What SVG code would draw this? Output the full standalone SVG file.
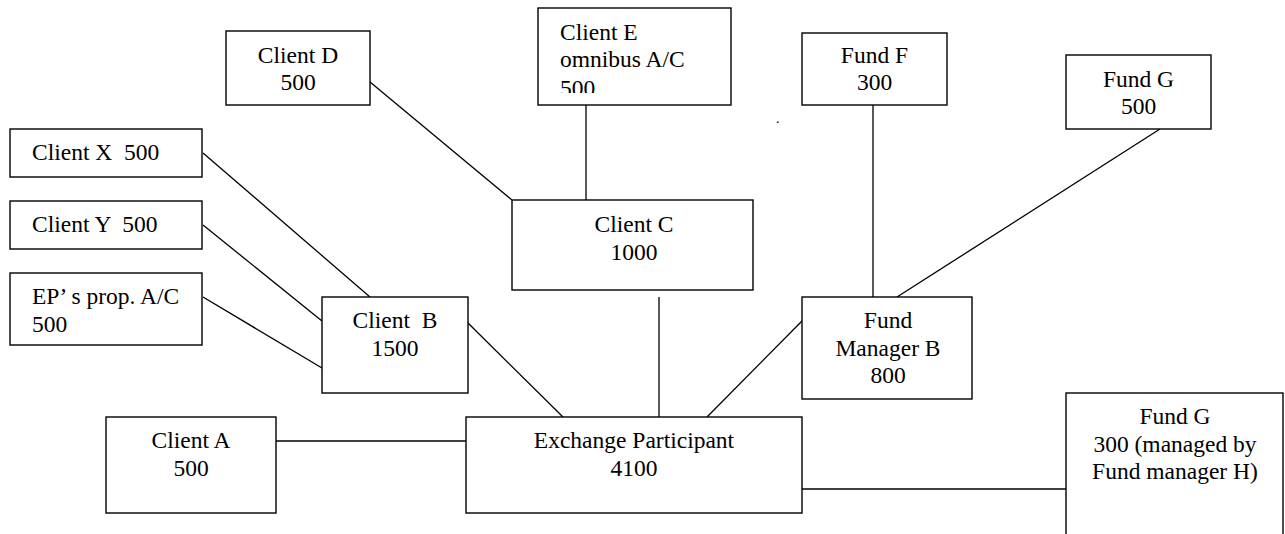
<svg xmlns="http://www.w3.org/2000/svg" width="1285" height="534" viewBox="0 0 1285 534">
<style>
.box{fill:#fff;stroke:#000;stroke-width:1.4}
.ln{stroke:#000;stroke-width:1.3;fill:none}
text{font-family:"Liberation Serif","Times New Roman",serif;font-size:23.5px;fill:#000}
.c{text-anchor:middle}
</style>
<defs>
<clipPath id="clipE"><rect x="538" y="8" width="193" height="85"/></clipPath>
</defs>
<rect width="1285" height="534" fill="#fff"/>
<g id="connectors">
<line class="ln" x1="370" y1="82" x2="512" y2="200"/>
<line class="ln" x1="586" y1="105" x2="586" y2="200"/>
<line class="ln" x1="203" y1="153" x2="370" y2="297"/>
<line class="ln" x1="203" y1="225" x2="322" y2="321"/>
<line class="ln" x1="203" y1="297" x2="322" y2="368"/>
<line class="ln" x1="468" y1="323" x2="563" y2="417"/>
<line class="ln" x1="659" y1="297" x2="659" y2="417"/>
<line class="ln" x1="802" y1="321" x2="707" y2="417"/>
<line class="ln" x1="873" y1="105" x2="873" y2="297"/>
<line class="ln" x1="1160" y1="129" x2="897" y2="297"/>
<line class="ln" x1="276" y1="441" x2="466" y2="441"/>
<line class="ln" x1="802" y1="489" x2="1066" y2="489"/>
</g>
<g id="clientD"><rect class="box" x="226" y="31" width="144" height="74"/><text class="c" x="298" y="63">Client D</text><text class="c" x="298" y="90">500</text></g>
<g id="clientE"><rect class="box" x="538" y="8" width="193" height="97"/><text x="560" y="40">Client E</text><text x="560" y="67">omnibus A/C</text><text x="560" y="96" clip-path="url(#clipE)">500</text></g>
<g id="fundF"><rect class="box" x="802" y="33" width="145" height="72"/><text class="c" x="874.5" y="63">Fund F</text><text class="c" x="874.5" y="90">300</text></g>
<g id="fundG1"><rect class="box" x="1066" y="55" width="145" height="74"/><text class="c" x="1138.5" y="87">Fund G</text><text class="c" x="1138.5" y="114">500</text></g>
<g id="clientX"><rect class="box" x="10" y="129" width="192" height="48"/><text x="32" y="160" xml:space="preserve">Client X  500</text></g>
<g id="clientY"><rect class="box" x="10" y="201" width="192" height="48"/><text x="32" y="232" xml:space="preserve">Client Y  500</text></g>
<g id="epProp"><rect class="box" x="10" y="273" width="192" height="72"/><text x="32" y="304">EP’ s prop. A/C</text><text x="32" y="332">500</text></g>
<g id="clientC"><rect class="box" x="512" y="200" width="241" height="90"/><text class="c" x="634" y="232">Client C</text><text class="c" x="634" y="260">1000</text></g>
<g id="clientB"><rect class="box" x="322" y="297" width="146" height="96"/><text class="c" x="395" y="328" xml:space="preserve">Client  B</text><text class="c" x="395" y="356">1500</text></g>
<g id="fundManagerB"><rect class="box" x="802" y="297" width="170" height="102"/><text class="c" x="888" y="328">Fund</text><text class="c" x="888" y="356">Manager B</text><text class="c" x="888" y="383">800</text></g>
<g id="clientA"><rect class="box" x="106" y="417" width="170" height="96"/><text class="c" x="191" y="448">Client A</text><text class="c" x="191" y="476">500</text></g>
<g id="exchangeParticipant"><rect class="box" x="466" y="417" width="336" height="96"/><text class="c" x="634" y="448">Exchange Participant</text><text class="c" x="634" y="476">4100</text></g>
<g id="fundG2"><rect class="box" x="1066" y="393" width="217" height="160"/><text class="c" x="1175" y="424">Fund G</text><text class="c" x="1175" y="452">300 (managed by</text><text class="c" x="1175" y="479">Fund manager H)</text></g>
<text x="776" y="123" style="font-size:14px">.</text>
</svg>
